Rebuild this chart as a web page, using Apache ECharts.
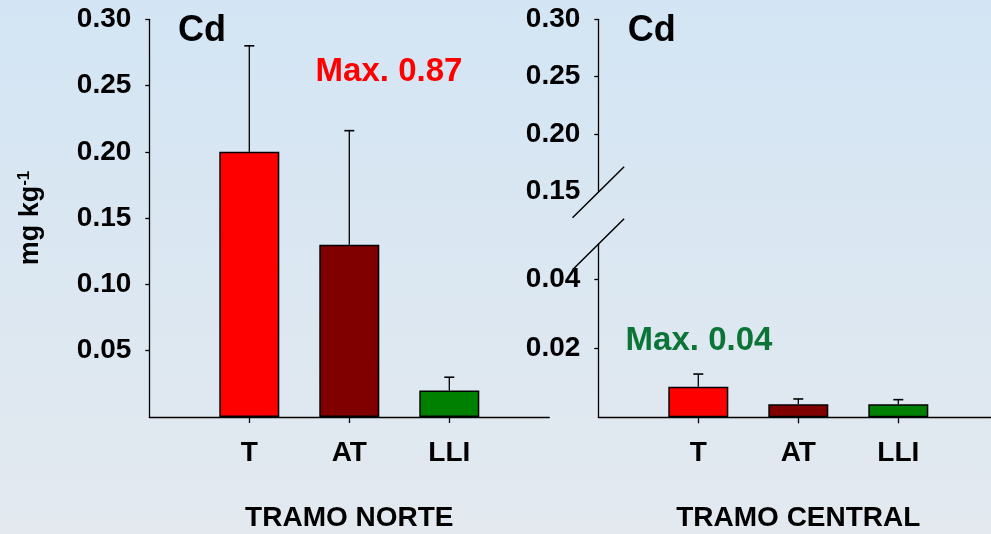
<!DOCTYPE html>
<html>
<head>
<meta charset="utf-8">
<script src="https://cdn.jsdelivr.net/npm/echarts@6/dist/echarts.min.js"></script>
<style>
  html, body { margin: 0; padding: 0; }
  #chart { width: 991px; height: 534px; }
</style>
</head>
<body>
<div id="chart"></div>
<script>
// Cadmium (mg/kg): mean and upper error bound per zone
const categories = ['T', 'AT', 'LLI'];
const norteMean = [0.20, 0.13, 0.02];
const norteUpper = [0.28, 0.216, 0.030];
const centralMean = [0.0088, 0.0038, 0.0038];
const centralUpper = [0.0125, 0.0053, 0.0051];

// Tick positions
const norteTicks = [0.05, 0.10, 0.15, 0.20, 0.25, 0.30];
const centralHighLabels = [0.15, 0.20, 0.25, 0.30];
const centralHighTicks = [0.20, 0.25, 0.30];
const centralLowTicks = [0.02, 0.04];

const panelNames = ['TRAMO NORTE', 'TRAMO CENTRAL'];
const elementName = 'Cd';
const maxNotes = ['Max. 0.87', 'Max. 0.04'];
const unitMain = 'mg kg';
const unitSup = '-1';

// ---- styling / layout ----
const FONT = "'Liberation Sans', Arial, sans-serif";
const barColors = ['#FF0000', '#800000', '#008000'];
const noteColors = ['#FF0000', '#0A7537'];
const GRID = {
  norte: { left: 149.3, top: 19.3, width: 400, height: 397.7, outerBoundsMode: 'none', containLabel: false },
  high:  { left: 598.3, top: 19.3, width: 400, height: 172, outerBoundsMode: 'none', containLabel: false },
  low:   { left: 598.3, top: 244.3, width: 400, height: 173, outerBoundsMode: 'none', containLabel: false }
};
const axisCats = [''].concat(categories, ['']);
const hasName = (i, v) => v !== '';
const lineStyle = { color: '#000', width: 1.3 };

function xAxisFor(gridIndex, name, visible) {
  return {
    type: 'category', gridIndex, data: axisCats, boundaryGap: false, show: visible,
    axisLine: { show: true, lineStyle },
    axisTick: { show: true, inside: false, length: 6, interval: hasName, lineStyle },
    axisLabel: {
      interval: hasName, margin: 22, color: '#000',
      fontFamily: FONT, fontSize: 28, fontWeight: 'bold'
    },
    splitLine: { show: false },
    name, nameLocation: 'middle', nameGap: 87,
    nameTextStyle: { color: '#000', fontFamily: FONT, fontSize: 28, fontWeight: 'bold' }
  };
}

function yAxisFor(gridIndex, min, max, tickVals, labelVals) {
  return {
    type: 'value', gridIndex, min, max,
    axisLine: { show: true, lineStyle },
    axisTick: { show: true, inside: false, length: 4, customValues: tickVals, lineStyle },
    axisLabel: {
      customValues: labelVals, margin: 18, color: '#000',
      fontFamily: FONT, fontSize: 28, fontWeight: 'bold',
      formatter: v => v.toFixed(2)
    },
    splitLine: { show: false }
  };
}

function barSeries(axisIndex, means) {
  return {
    type: 'bar', xAxisIndex: axisIndex, yAxisIndex: axisIndex, barWidth: 60,
    data: categories.map((c, i) => ({
      value: [c, means[i]],
      itemStyle: { color: barColors[i] }
    })),
    itemStyle: { borderColor: '#000', borderWidth: 1.5 },
    silent: true, z: 2
  };
}

function errorSeries(axisIndex, means, uppers) {
  return {
    type: 'custom', xAxisIndex: axisIndex, yAxisIndex: axisIndex,
    data: categories.map((c, i) => [c, means[i], uppers[i]]),
    encode: { x: 0, y: [1, 2] },
    silent: true, z: 3,
    renderItem: (params, api) => {
      const x = api.value(0);
      const base = api.coord([x, api.value(1)]);
      const top = api.coord([x, api.value(2)]);
      const half = 5;
      return {
        type: 'group',
        children: [
          { type: 'line', shape: { x1: base[0], y1: base[1], x2: top[0], y2: top[1] },
            style: { stroke: '#000', lineWidth: 1.3 } },
          { type: 'line', shape: { x1: top[0] - half, y1: top[1], x2: top[0] + half, y2: top[1] },
            style: { stroke: '#000', lineWidth: 1.6 } }
        ]
      };
    }
  };
}

function label(text, x, y, size, color) {
  return {
    type: 'text', x, y, silent: true,
    style: { text, fill: color, font: `bold ${size}px ${FONT}`, align: 'center', verticalAlign: 'middle' }
  };
}

// break marks on the central panel's value axis
const axisX = GRID.high.left;
const breakHigh = GRID.high.top + GRID.high.height + 1;
const breakLow = GRID.low.top;
const sdx = 25.8, sdy = 25.5;
function slash(cy) {
  return {
    type: 'line', silent: true,
    shape: { x1: axisX - sdx, y1: cy + sdy, x2: axisX + sdx, y2: cy - sdy },
    style: { stroke: '#000', lineWidth: 1.5 }
  };
}

const chart = echarts.init(document.getElementById('chart'), null, { renderer: 'canvas' });
chart.setOption({
  animation: false,
  backgroundColor: {
    type: 'linear', x: 0, y: 0, x2: 0, y2: 1,
    colorStops: [{ offset: 0, color: '#D3E5F4' }, { offset: 1, color: '#E3E9EF' }]
  },
  grid: [GRID.norte, GRID.high, GRID.low],
  xAxis: [
    xAxisFor(0, panelNames[0], true),
    xAxisFor(1, '', false),
    xAxisFor(2, panelNames[1], true)
  ],
  yAxis: [
    yAxisFor(0, 0, 0.30, norteTicks, norteTicks),
    yAxisFor(1, 0.15, 0.30, centralHighTicks, centralHighLabels),
    yAxisFor(2, 0, 0.05, centralLowTicks, centralLowTicks)
  ],
  series: [
    barSeries(0, norteMean),
    errorSeries(0, norteMean, norteUpper),
    barSeries(2, centralMean),
    errorSeries(2, centralMean, centralUpper)
  ],
  graphic: [
    label(elementName, 202, 31, 36, '#000'),
    label(elementName, 651.7, 31, 36, '#000'),
    label(maxNotes[0], 389, 71.5, 33, noteColors[0]),
    label(maxNotes[1], 699, 341, 33, noteColors[1]),
    {
      type: 'text', x: 31, y: 218, rotation: Math.PI / 2, silent: true,
      style: {
        text: `{a|${unitMain}}{b|${unitSup}}`,
        align: 'center', verticalAlign: 'middle', fill: '#000',
        rich: {
          a: { fontFamily: FONT, fontSize: 27, fontWeight: 'bold', fill: '#000', lineHeight: 30 },
          b: { fontFamily: FONT, fontSize: 17, fontWeight: 'bold', fill: '#000', lineHeight: 17, verticalAlign: 'top' }
        }
      }
    },
    slash(breakHigh),
    slash(breakLow)
  ]
});
</script>
</body>
</html>
